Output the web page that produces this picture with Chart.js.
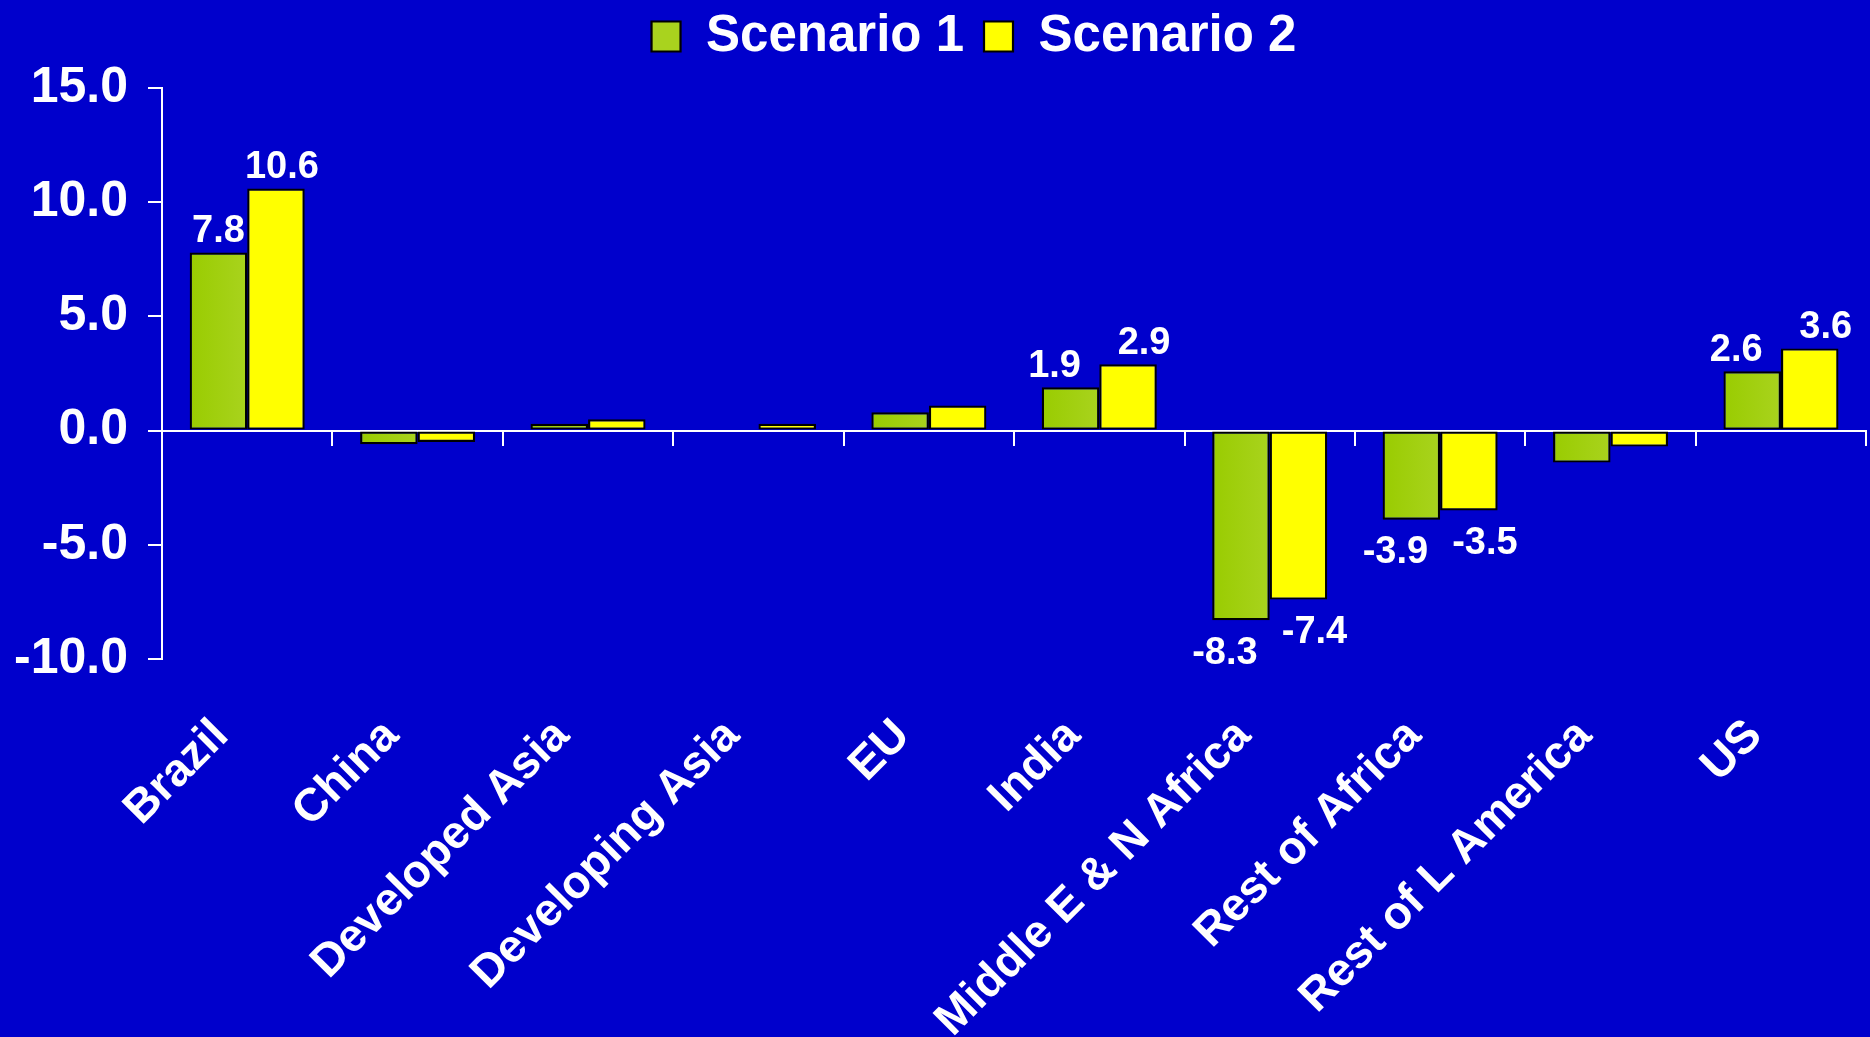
<!DOCTYPE html>
<html>
<head>
<meta charset="utf-8">
<script src="https://cdn.jsdelivr.net/npm/chart.js@4.4.1/dist/chart.umd.min.js"></script>
<style>
  html, body { margin: 0; padding: 0; background: #0000cc; }
  #wrap { width: 1870px; height: 1037px; position: relative; }
</style>
</head>
<body>
<div id="wrap"><canvas id="chart"></canvas></div>
<script>
/* Scenario comparison by region — blue slide style */

const REGIONS = [
  "Brazil", "China", "Developed Asia", "Developing Asia", "EU",
  "India", "Middle E & N Africa", "Rest of Africa", "Rest of L America", "US",
];
const SCENARIO_1 = [7.8, -0.6, 0.3, 0.0, 0.8, 1.9, -8.3, -3.9, -1.4, 2.6];
const SCENARIO_2 = [10.6, -0.5, 0.5, 0.3, 1.1, 2.9, -7.4, -3.5, -0.7, 3.6];
const SERIES_NAMES = ["Scenario 1", "Scenario 2"];
// categories that carry value labels on the slide
const LABELLED = ["Brazil", "India", "Middle E & N Africa", "Rest of Africa", "US"];
const Y_MIN = -10, Y_MAX = 15, Y_STEP = 5;

const FONT = "'Liberation Sans', Arial, sans-serif";
const WHITE = "#ffffff";
const GREEN_L = "#99cc00", GREEN_R = "#a9d31e";
const CAT_PCT = 0.675;

/* ── 초록 막대 그라데이션 (왼쪽 → 오른쪽) ── */
function greenFill(c) {
  const xs = c.chart.scales.x;
  if (c.type !== "data" || !xs || !xs.width) return GREEN_L;
  const center = xs.getPixelForValue(c.dataIndex);
  const half = (xs.width / REGIONS.length) * CAT_PCT / 2;
  const g = c.chart.ctx.createLinearGradient(center - half, 0, center, 0);
  g.addColorStop(0, GREEN_L);
  g.addColorStop(1, GREEN_R);
  return g;
}

const edge = c => (c.raw === 0 ? 0 : 2.2);

/* ── 값 라벨 ── */
const valueLabels = {
  id: "valueLabels",
  afterDatasetsDraw(chart) {
    const ctx = chart.ctx;
    const m0 = chart.getDatasetMeta(0).data;
    const m1 = chart.getDatasetMeta(1).data;
    ctx.save();
    ctx.font = `bold 38px ${FONT}`;
    ctx.fillStyle = WHITE;
    ctx.textAlign = "center";
    chart.data.datasets.forEach((ds, di) => {
      const meta = chart.getDatasetMeta(di);
      meta.data.forEach((bar, i) => {
        if (!LABELLED.includes(REGIONS[i])) return;
        // labels pushed apart only when they would collide
        const close = Math.abs(m0[i].y - m1[i].y) < 40;
        const shift = close ? (di === 0 ? -16 : 16) : (di === 0 ? 0 : 6);
        const v = ds.data[i];
        if (v >= 0) {
          ctx.textBaseline = "bottom";
          ctx.fillText(v.toFixed(1), bar.x + shift, bar.y - 2);
        } else {
          ctx.textBaseline = "top";
          ctx.fillText(v.toFixed(1), bar.x + shift, bar.y + 14);
        }
      });
    });
    ctx.restore();
  },
};

/* ── 범례 위치 보정 ── */
const legendShift = {
  id: "legendShift",
  afterLayout(chart) {
    const l = chart.legend;
    l.left += 39; l.right += 39;
    l.top -= 16; l.bottom -= 16;
  },
};

new Chart(document.getElementById("chart"), {
  type: "bar",
  data: {
    labels: REGIONS,
    datasets: [
      {
        label: SERIES_NAMES[0],
        data: SCENARIO_1,
        backgroundColor: greenFill,
        borderColor: "#000000",
        borderWidth: edge,
        borderSkipped: false,
      },
      {
        label: SERIES_NAMES[1],
        data: SCENARIO_2,
        backgroundColor: "#ffff00",
        borderColor: "#000000",
        borderWidth: edge,
        borderSkipped: false,
      },
    ],
  },
  options: {
    responsive: true,
    maintainAspectRatio: false,
    animation: false,
    categoryPercentage: CAT_PCT,
    barPercentage: 1.0,
    layout: { padding: { left: 0, right: 0, top: 7, bottom: 0 } },
    plugins: {
      tooltip: { enabled: false },
      legend: {
        position: "top",
        labels: {
          color: WHITE,
          font: { family: FONT, size: 51, weight: "bold" },
          boxWidth: 29,
          boxHeight: 30,
          padding: 20,
        },
      },
    },
    scales: {
      x: {
        type: "category",
        position: "bottom",
        offset: true,
        grid: { display: false, drawTicks: false },
        border: { display: false },
        ticks: {
          color: WHITE,
          font: { family: FONT, size: 46, weight: "bold" },
          minRotation: 45,
          maxRotation: 45,
          autoSkip: false,
          padding: 50,
          labelOffset: -26,
        },
        afterFit(scale) { scale.height = 378; },
      },
      x0: {
        type: "category",
        axis: "x",
        position: { y: 0 },
        offset: true,
        z: 1,
        grid: {
          offset: true,
          drawOnChartArea: false,
          drawTicks: true,
          tickLength: 14,
          color: WHITE,
          lineWidth: 2,
        },
        border: { display: true, color: WHITE, width: 2 },
        ticks: { display: false },
      },
      y: {
        min: Y_MIN,
        max: Y_MAX,
        ticks: {
          stepSize: Y_STEP,
          color: WHITE,
          font: { family: FONT, size: 50, weight: "bold" },
          padding: 20,
          callback: v => v.toFixed(1),
        },
        grid: {
          drawOnChartArea: false,
          drawTicks: true,
          tickLength: 14,
          color: WHITE,
          lineWidth: 2,
        },
        border: { display: true, color: WHITE, width: 2 },
        afterFit(scale) { scale.width = 162; },
      },
    },
  },
  plugins: [valueLabels, legendShift],
});
</script>
</body>
</html>
